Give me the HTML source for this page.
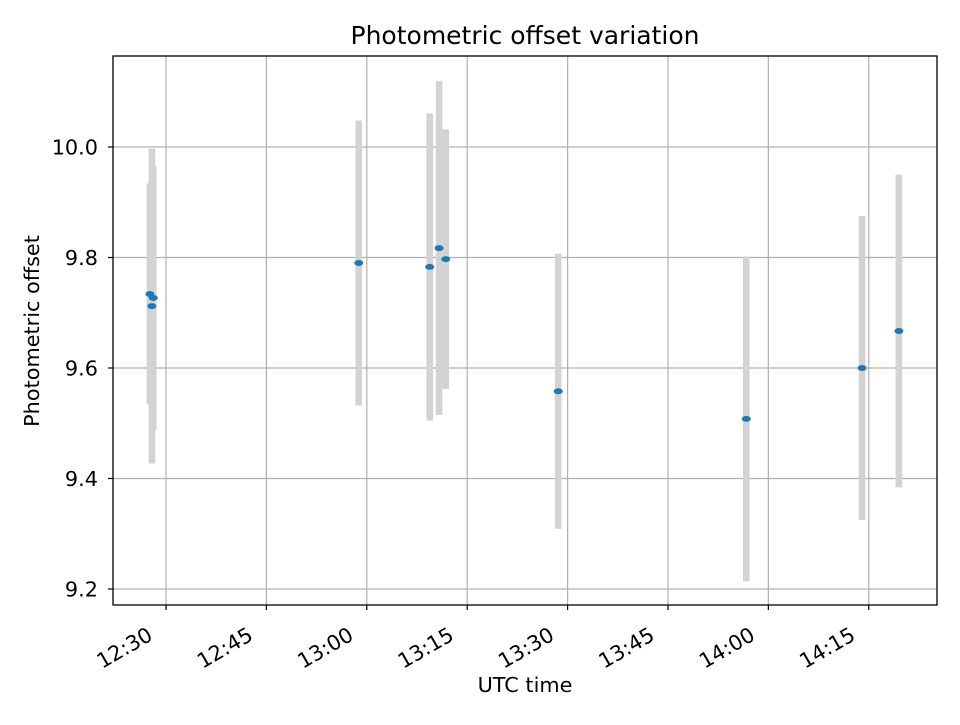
<!DOCTYPE html>
<html><head><meta charset="utf-8"><style>
body{margin:0;background:#fff}
text{font-family:"DejaVu Sans","Liberation Sans",sans-serif;fill:#000}
</style></head><body>
<svg id="chart" width="960" height="720" xmlns="http://www.w3.org/2000/svg">
<rect width="960" height="720" fill="#fff"/>
<g id="grid"></g>
<g id="errs"></g>
<g id="pts"></g>
<rect x="113" y="56" width="824" height="549" fill="none" stroke="#000" stroke-width="1.3"/>
<g id="ticks"></g>
<text x="525" y="44" font-size="25" text-anchor="middle">Photometric offset variation</text>
<text x="525" y="692" font-size="20.8" text-anchor="middle">UTC time</text>
<text transform="translate(39,331) rotate(-90)" font-size="20.8" text-anchor="middle">Photometric offset</text>
</svg>
<script>
// minutes after 12:30 UTC
const times = [-2.4, -1.9, -2.1, 28.8, 39.4, 40.8, 41.8, 58.6, 86.7, 104.0, 109.5];
const values = [9.734, 9.727, 9.712, 9.790, 9.783, 9.817, 9.797, 9.558, 9.508, 9.600, 9.667];
const errors = [0.2, 0.239, 0.285, 0.258, 0.278, 0.302, 0.235, 0.249, 0.294, 0.275, 0.283];
const yTicks = [9.2, 9.4, 9.6, 9.8, 10.0];
const xTickMinutes = [0, 15, 30, 45, 60, 75, 90, 105];
const xTickLabels = ["12:30","12:45","13:00","13:15","13:30","13:45","14:00","14:15"];

const NS = "http://www.w3.org/2000/svg";
const X = m => 166 + m * 6.693;
const Y = v => 147 + (10 - v) * 552.5;
function mk(tag, attrs, parent){const e=document.createElementNS(NS,tag);for(const k in attrs)e.setAttribute(k,attrs[k]);parent.appendChild(e);return e;}
const grid=document.getElementById('grid'), ticks=document.getElementById('ticks'),
      errs=document.getElementById('errs'), pts=document.getElementById('pts');

yTicks.forEach(v=>{
  const y=Y(v);
  const g=mk('line',{x1:113,x2:937,y1:y,y2:y,stroke:'#b0b0b0','stroke-width':1.2},grid);
  
  
  const t=mk('line',{x1:108,x2:113,y1:y,y2:y,stroke:'#000','stroke-width':1.2},ticks);
  
  
  const l=mk('text',{x:98,y:y+7.5,'font-size':20.8,'text-anchor':'end'},ticks);
  l.textContent=v.toFixed(1);
  
  
});
xTickMinutes.forEach((m,i)=>{
  const x=X(m);
  const g=mk('line',{x1:x,x2:x,y1:56,y2:605,stroke:'#b0b0b0','stroke-width':1.2},grid);
  
  
  const t=mk('line',{x1:x,x2:x,y1:605,y2:610,stroke:'#000','stroke-width':1.2},ticks);
  
  
  const ax=x-12, ay=639;
  const l=mk('text',{x:ax,y:ay,'font-size':20.8,'text-anchor':'end',transform:`rotate(-30 ${ax} ${ay})`},ticks);
  l.textContent=xTickLabels[i];
  
  
});
times.forEach((m,i)=>{
  const x=X(m), y1=Y(values[i]+errors[i]), y2=Y(values[i]-errors[i]);
  const r=mk('rect',{x:x-3.3,y:y1,width:6.6,height:y2-y1,fill:'#d3d3d3'},errs);
  
  
});
times.forEach((m,i)=>{
  const e=mk('ellipse',{cx:X(m),cy:Y(values[i]),rx:4.5,ry:3,fill:'#1f77b4'},pts);
  
  
});
</script>
</body></html>
